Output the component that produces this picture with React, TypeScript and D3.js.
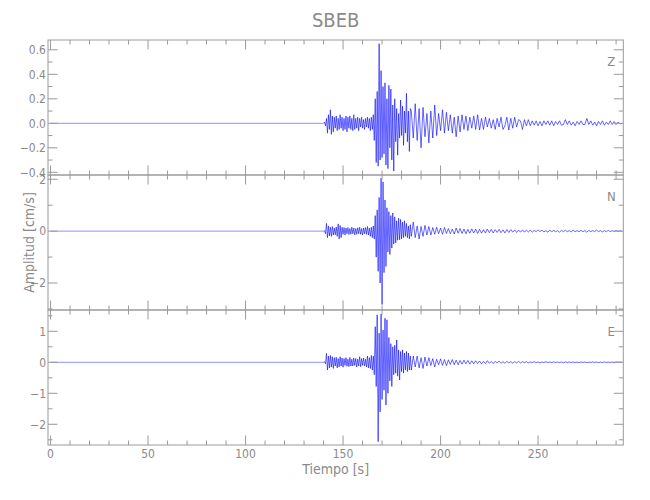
import React from 'react';
import * as d3 from 'd3';

// ---------- data ----------
const title = 'SBEB';
const xLabel = 'Tiempo [s]';
const yLabel = 'Amplitud [cm/s]';
const components = ['Z', 'N', 'E'];

const xMajorTicks = [0, 50, 100, 150, 200, 250];
const xMinorTicks = [10, 20, 30, 40, 60, 70, 80, 90, 110, 120, 130, 140, 160, 170, 180, 190, 210, 220, 230, 240, 260, 270, 280, 290];
const xDomain = [-1.3, 293.7];

// record timing (s)
const recordStart = 0;
const burstStart = 140;
const burstStep = 0.5;
const codaStart = 185;
const codaStep = 1;

// Z component (cm/s)
const zBurst = [
  0, 0.01, -0.02, 0.04, -0.08, 0.07, -0.05, 0.11, -0.09, 0.06,
  -0.07, 0.05, -0.04, 0.06, -0.06, 0.04, -0.05, 0.07, -0.04, 0.05,
  -0.06, 0.04, -0.05, 0.06, -0.07, 0.05, -0.04, 0.06, -0.05, 0.04,
  -0.06, 0.07, -0.05, 0.04, -0.04, 0.05, -0.06, 0.04, -0.03, 0.05,
  -0.04, 0.03, -0.05, 0.04, -0.03, 0.05, -0.04, 0.04, -0.06, 0.05,
  -0.05, 0.07, -0.14, 0.2, -0.32, 0.26, -0.35, 0.65, -0.3, 0.43,
  -0.28, 0.3, -0.25, 0.33, -0.34, 0.2, -0.37, 0.31, -0.2, 0.28,
  -0.3, 0.15, -0.39, 0.2, -0.15, 0.12, -0.26, 0.08, -0.12, 0.19,
  -0.1, 0.14, -0.18, 0.1, -0.08, 0.245, -0.15, 0.1, -0.23, 0.12,
];
const zCoda = [
  0.1, -0.12, 0.16, -0.14, 0.12, -0.2, 0.13, -0.11, 0.08, -0.16,
  0.1, -0.12, 0.15, -0.1, 0.08, -0.06, 0.11, -0.08, 0.09, -0.06,
  0.07, -0.08, 0.05, -0.11, 0.06, -0.07, 0.07, -0.05, 0.06, -0.06,
  0.05, -0.04, 0.06, -0.05, 0.07, -0.055, 0.04, -0.05, 0.05, -0.03,
  0.04, -0.04, 0.03, -0.05, 0.04, -0.03, 0.05, -0.05, -0.02, 0.05,
  -0.055, 0.04, -0.04, 0.05, -0.03, 0.03, 0.02, -0.05, 0.03, -0.02,
  0.03, -0.02, 0.02, -0.015, 0.02, -0.02, 0.015, -0.02, 0.02, -0.01,
  0.02, -0.015, 0.02, -0.02, 0.015, -0.01, 0.02, -0.015, -0.01, 0.03,
  -0.01, 0.02, -0.015, 0.01, -0.02, 0.015, -0.01, 0.02, -0.01, -0.01,
  0.04, -0.01, 0.02, -0.015, 0.01, -0.02, 0.015, -0.01, 0.02, -0.015,
  0.01, -0.01, 0.02, -0.01, 0.015, -0.01, 0.01, -0.005, 0,
];

// N component (cm/s)
const nBurst = [
  0, 0.02, -0.1, 0.3, -0.25, 0.2, -0.18, 0.15, -0.2, 0.18,
  -0.15, 0.12, -0.14, 0.16, -0.2, 0.28, -0.3, 0.22, -0.25, 0.15,
  -0.12, 0.14, -0.15, 0.12, -0.1, 0.14, -0.13, 0.1, -0.12, 0.15,
  -0.1, 0.12, -0.14, 0.1, -0.12, 0.13, -0.1, 0.15, -0.12, 0.1,
  -0.15, 0.12, -0.1, 0.14, -0.12, 0.18, -0.15, 0.12, -0.2, 0.15,
  -0.25, 0.2, -0.3, 0.6, -1.0, 0.82, -1.55, 1.3, -2.0, 2.04,
  -2.83, 1.9, -1.6, 1.2, -1.36, 0.9, -0.8, 0.75, -0.9, 0.6,
  -0.65, 0.7, -0.5, 0.55, -0.45, 0.4, -0.35, 0.5, -0.33, 0.45,
  -0.3, 0.35, -0.25, 0.4, -0.2, 0.3, -0.25, 0.2, -0.3, 0.25,
];
const nCoda = [
  -0.2, 0.35, -0.25, 0.2, -0.3, 0.18, -0.2, 0.22, -0.15, 0.18,
  -0.15, 0.14, -0.12, 0.15, -0.1, 0.12, -0.12, 0.14, -0.09, 0.1,
  -0.1, 0.08, -0.11, 0.12, -0.08, 0.1, -0.09, 0.08, -0.1, 0.07,
  -0.08, 0.09, -0.07, 0.08, -0.09, 0.07, -0.08, 0.06, -0.07, 0.08,
  -0.06, 0.07, -0.07, 0.06, -0.05, 0.07, -0.06, 0.05, -0.07, 0.06,
  -0.05, 0.06, -0.04, 0.05, -0.05, 0.04, -0.04, 0.05, -0.04, 0.04,
  -0.03, 0.04, -0.04, 0.03, -0.02, 0.05, -0.02, 0.04, -0.03, 0.02,
  -0.04, 0.04, -0.02, 0.03, -0.02, 0.02, -0.04, 0.03, -0.02, 0.04,
  -0.02, 0.02, -0.03, 0.04, -0.02, 0.02, -0.02, 0.03, -0.02, 0.02,
  -0.04, 0.03, -0.02, 0.02, -0.02, 0.04, -0.02, 0.02, -0.03, 0.02,
  -0.02, 0.03, -0.02, 0.02, -0.01, 0.02, -0.01, 0.01, 0,
];

// E component (cm/s)
const eBurst = [
  0, 0.02, -0.05, 0.29, -0.25, 0.2, -0.18, 0.22, -0.15, 0.18,
  -0.2, 0.15, -0.12, 0.16, -0.18, 0.12, -0.15, 0.18, -0.12, 0.14,
  -0.16, 0.12, -0.1, 0.15, -0.13, 0.1, -0.14, 0.16, -0.12, 0.1,
  -0.12, 0.14, -0.1, 0.12, -0.15, 0.1, -0.12, 0.18, -0.14, 0.12,
  -0.1, 0.14, -0.12, 0.1, -0.15, 0.2, -0.18, 0.15, -0.2, 0.22,
  -0.25, 0.2, -0.4, 1.15, -0.78, 1.53, -2.56, 0.94, -1.6, 1.56,
  -1.2, 1.04, -0.9, 1.42, -1.38, 1.37, -1.0, 0.8, -0.6, 0.6,
  -0.78, 0.5, -0.4, 0.55, -0.35, 0.72, -0.45, 0.4, -0.57, 0.35,
  -0.3, 0.4, -0.35, 0.3, -0.25, 0.35, -0.3, 0.3, -0.25, 0.2,
];
const eCoda = [
  -0.25, 0.2, -0.15, 0.2, -0.18, 0.15, -0.2, 0.17, -0.12, 0.15,
  -0.1, 0.12, -0.15, 0.1, -0.08, 0.11, -0.1, 0.09, -0.11, 0.08,
  -0.07, 0.09, -0.08, 0.07, -0.08, 0.06, -0.06, 0.07, -0.05, 0.06,
  -0.06, 0.05, -0.05, 0.05, -0.04, 0.04, -0.05, 0.03, -0.04, 0.05,
  -0.03, 0.03, -0.04, 0.03, -0.02, 0.04, -0.03, 0.02, -0.03, 0.03,
  -0.02, 0.02, -0.03, 0.02, -0.02, 0.03, -0.02, 0.02, -0.01, 0.02,
  -0.02, 0.01, -0.01, 0.02, -0.01, 0.01, -0.02, 0.01, -0.01, 0.02,
  -0.01, 0.01, -0.01, 0.015, -0.01, 0.01, -0.01, 0.01, -0.015, 0.01,
  -0.01, 0.01, -0.005, 0.01, -0.01, 0.005, -0.01, 0.01, -0.005, 0.01,
  -0.01, 0.005, -0.005, 0.01, -0.005, 0.005, -0.01, 0.005, -0.005, 0.01,
  -0.005, 0.005, -0.005, 0.005, -0.005, 0.005, 0, 0.005, 0,
];

// y axes
const zDomain = [-0.422, 0.68];
const nDomain = [-3.04, 2.165];
const eDomain = [-2.668, 1.687];
const zMajor = [-0.4, -0.2, 0, 0.2, 0.4, 0.6];
const zMinor = [-0.3, -0.1, 0.1, 0.3, 0.5];
const nMajor = [-2, 0, 2];
const nMinor = [-3, -1, 1];
const eMajor = [-2, -1, 0, 1];
const eMinor = [-2.5, -1.5, -0.5, 0.5, 1.5];

// ---------- layout ----------
const W = 650;
const H = 500;
const left = 48;
const right = 623.3;
const panelTop = 40;
const panelH = 135;
const axisColor = '#9a9a9a';
const textColor = '#8a8a8a';
const traceColor = '#0000ff';
const font = "'Liberation Sans Narrow', 'DejaVu Sans Condensed', 'Roboto', sans-serif";

type Pt = { t: number; v: number };

function buildPre(burst: number[]): Pt[] {
  return [{ t: recordStart, v: 0 }, { t: burstStart, v: burst[0] }];
}

function buildTrace(burst: number[], coda: number[]): Pt[] {
  const pts: Pt[] = [];
  burst.forEach((v, i) => pts.push({ t: burstStart + i * burstStep, v }));
  coda.forEach((v, i) => pts.push({ t: codaStart + i * codaStep, v }));
  return pts;
}

const panels = [
  { name: components[0], burst: zBurst, coda: zCoda, domain: zDomain, major: zMajor, minor: zMinor, fmt: d3.format('.1f') },
  { name: components[1], burst: nBurst, coda: nCoda, domain: nDomain, major: nMajor, minor: nMinor, fmt: d3.format('d') },
  { name: components[2], burst: eBurst, coda: eCoda, domain: eDomain, major: eMajor, minor: eMinor, fmt: d3.format('d') },
];

const minus = (s: string) => s.replace('-', '\u2212');

export default function App() {
  const x = d3.scaleLinear().domain(xDomain).range([left, right]);
  const majLen = 9.5;
  const minLen = 4.5;

  return (
    <svg width={W} height={H} style={{ position: 'absolute', left: 0, top: 0, background: '#fff' }} fontFamily={font}>
      <rect x={0} y={0} width={W} height={H} fill="#fff" />
      <defs>
        {panels.map((p, i) => (
          <clipPath id={`clip${i}`} key={i}>
            <rect x={left} y={panelTop + i * panelH} width={right - left} height={panelH} />
          </clipPath>
        ))}
      </defs>
      <text x={(left + right) / 2} y={27} textAnchor="middle" fontSize={20} fill={textColor}>{title}</text>

      {panels.map((p, i) => {
        const top = panelTop + i * panelH;
        const bottom = top + panelH;
        const y = d3.scaleLinear().domain(p.domain).range([bottom, top]);
        const line = d3.line<Pt>().x((d) => x(d.t)).y((d) => y(d.v));
        return (
          <g key={p.name}>
            <path d={line(buildPre(p.burst)) || ''} fill="none" stroke={traceColor} strokeOpacity={0.55} strokeWidth={0.8} clipPath={`url(#clip${i})`} />
            <path d={line(buildTrace(p.burst, p.coda)) || ''} fill="none" stroke={traceColor} strokeWidth={0.6} clipPath={`url(#clip${i})`} />
            <rect x={left} y={top} width={right - left} height={panelH} fill="none" stroke={axisColor} strokeWidth={1} />
            {xMajorTicks.map((t) => (
              <g key={`xm${t}`}>
                <line x1={x(t)} x2={x(t)} y1={bottom} y2={bottom - majLen} stroke={axisColor} />
                <line x1={x(t)} x2={x(t)} y1={top} y2={top + majLen} stroke={axisColor} />
              </g>
            ))}
            {xMinorTicks.map((t) => (
              <g key={`xn${t}`}>
                <line x1={x(t)} x2={x(t)} y1={bottom} y2={bottom - minLen} stroke={axisColor} />
                <line x1={x(t)} x2={x(t)} y1={top} y2={top + minLen} stroke={axisColor} />
              </g>
            ))}
            {p.major.map((v) => (
              <g key={`ym${v}`}>
                <line x1={left} x2={left + majLen} y1={y(v)} y2={y(v)} stroke={axisColor} />
                <line x1={right} x2={right - majLen} y1={y(v)} y2={y(v)} stroke={axisColor} />
                <text x={left - 2} y={y(v)} dy="0.36em" textAnchor="end" fontSize={12} fill={textColor}>{minus(p.fmt(v))}</text>
              </g>
            ))}
            {p.minor.map((v) => (
              <g key={`yn${v}`}>
                <line x1={left} x2={left + minLen} y1={y(v)} y2={y(v)} stroke={axisColor} />
                <line x1={right} x2={right - minLen} y1={y(v)} y2={y(v)} stroke={axisColor} />
              </g>
            ))}
            <text x={right - 12} y={top + 26} textAnchor="middle" fontSize={13} fill={textColor}>{p.name}</text>
            {i === panels.length - 1 &&
              xMajorTicks.map((t) => (
                <text key={`xl${t}`} x={x(t)} y={458} textAnchor="middle" fontSize={12} fill={textColor}>{t}</text>
              ))}
          </g>
        );
      })}

      <text x={(left + right) / 2} y={474} textAnchor="middle" fontSize={14} fill={textColor}>{xLabel}</text>
      <text transform={`translate(34, ${panelTop + (panels.length * panelH) / 2}) rotate(-90)`} textAnchor="middle" fontSize={14} fill={textColor}>{yLabel}</text>
    </svg>
  );
}
